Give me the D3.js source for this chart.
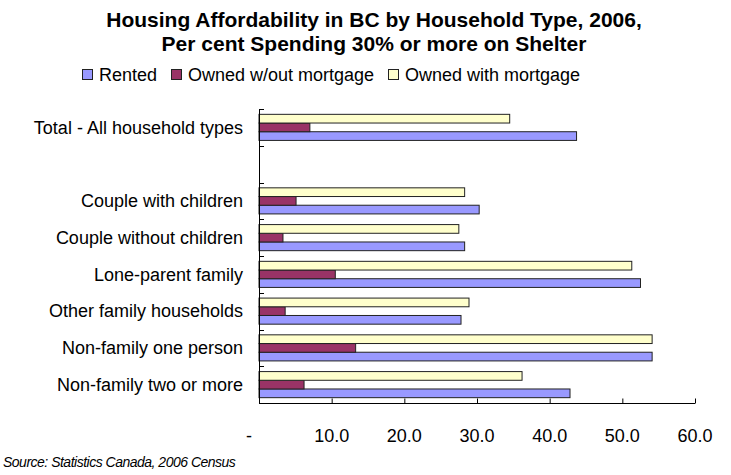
<!DOCTYPE html>
<html>
<head>
<meta charset="utf-8">
<script src="https://cdn.jsdelivr.net/npm/d3@7"></script>
<style>
  body { margin: 0; background: #fff; }
  svg { font-family: "Liberation Sans", Arial, sans-serif; }
</style>
</head>
<body>
<svg width="731" height="475"></svg>
<script>
// household types, top to bottom ("" is the empty spacer row)
const categories = [
  "Total - All household types",
  "",
  "Couple with children",
  "Couple without children",
  "Lone-parent family",
  "Other family households",
  "Non-family one person",
  "Non-family two or more",
];

// per cent spending 30% or more on shelter
const rented = [43.7, null, 30.3, 28.3, 52.5, 27.8, 54.1, 42.8];
const ownedNoMortgage = [7.0, null, 5.1, 3.3, 10.5, 3.6, 13.3, 6.2];
const ownedMortgage = [34.5, null, 28.3, 27.5, 51.3, 28.9, 54.1, 36.2];

const seriesNames = ["Rented", "Owned w/out mortgage", "Owned with mortgage"];
const seriesColors = ["#9999ff", "#993366", "#ffffcc"];
const xTicks = [0, 10, 20, 30, 40, 50, 60];

const series = [
  { name: seriesNames[0], color: seriesColors[0], values: rented },
  { name: seriesNames[1], color: seriesColors[1], values: ownedNoMortgage },
  { name: seriesNames[2], color: seriesColors[2], values: ownedMortgage },
];

const svg = d3.select("svg");

const margin = { top: 109, right: 36, bottom: 72, left: 259 };
const width = +svg.attr("width");
const height = +svg.attr("height");

// scales work in page coordinates so every text can sit at the svg root
const xScale = d3.scaleLinear().domain([0, 60]).range([margin.left, width - margin.right]);

const yScale = d3.scaleBand()
  .domain(categories)
  .range([margin.top, height - margin.bottom])
  .paddingInner(0.29)
  .paddingOuter(0.145);

// within a group the last series sits on top (Excel order)
const ySub = d3.scaleBand()
  .domain(seriesNames.slice().reverse())
  .range([0, yScale.bandwidth()]);

// bars
series.forEach((s) => {
  svg.append("g")
    .selectAll("rect")
    .data(categories.map((c, i) => ({ cat: c, v: s.values[i] })).filter((d) => d.v != null))
    .join("rect")
    .attr("x", xScale(0))
    .attr("y", (d) => yScale(d.cat) + ySub(s.name))
    .attr("width", (d) => xScale(d.v) - xScale(0))
    .attr("height", ySub.bandwidth())
    .attr("fill", s.color)
    .attr("stroke", "#222")
    .attr("stroke-width", 1);
});

// y axis: line, boundary ticks pointing inward
const step = yScale.step();
const y0 = margin.top;
const y1 = height - margin.bottom;
const yAxisG = svg.append("g").attr("id", "y-axis");
yAxisG.append("line")
  .attr("x1", margin.left + 0.5).attr("x2", margin.left + 0.5)
  .attr("y1", y0).attr("y2", y1)
  .attr("stroke", "#000");
yAxisG.selectAll(".btick")
  .data(d3.range(categories.length + 1))
  .join("line")
  .attr("x1", margin.left + 0.5).attr("x2", margin.left + 5)
  .attr("y1", (i) => Math.round(y0 + i * step) + 0.5)
  .attr("y2", (i) => Math.round(y0 + i * step) + 0.5)
  .attr("stroke", "#000");

// category labels
svg.append("g")
  .selectAll("text")
  .data(categories.filter((c) => c !== ""))
  .join("text")
  .attr("x", margin.left - 16)
  .attr("y", (d) => yScale(d) + yScale.bandwidth() / 2)
  .attr("dy", "0.35em")
  .attr("text-anchor", "end")
  .attr("font-size", 18)
  .attr("fill", "#000")
  .text((d) => d);

// x axis: line and inward ticks from d3, labels drawn at the root
const xAxis = d3.axisBottom(xScale)
  .tickValues(xTicks)
  .tickSize(-5)
  .tickFormat("");

const xAxisG = svg.append("g")
  .attr("id", "x-axis")
  .attr("transform", `translate(0, ${y1 + 0.5})`)
  .call(xAxis);
xAxisG.select(".domain")
  .attr("d", `M${xScale(0)},0H${xScale(60)}`)
  .attr("stroke", "#000");

svg.append("g")
  .selectAll("text")
  .data(xTicks)
  .join("text")
  .attr("x", (d) => xScale(d) + (d === 0 ? -10 : 0))
  .attr("y", y1 + 39)
  .attr("text-anchor", "middle")
  .attr("font-size", 18)
  .attr("fill", "#000")
  .text((d) => (d === 0 ? "-" : d3.format(".1f")(d)));

// title
const title = svg.append("text")
  .attr("x", 374)
  .attr("y", 27)
  .attr("text-anchor", "middle")
  .attr("font-size", 21)
  .attr("font-weight", "bold");
title.append("tspan").attr("x", 374).text("Housing Affordability in BC by Household Type, 2006,");
title.append("tspan").attr("x", 374).attr("dy", 24).text("Per cent Spending 30% or more on Shelter");

// legend
const legendX = [82, 171, 388];
svg.append("g")
  .selectAll("rect")
  .data(series)
  .join("rect")
  .attr("x", (d, i) => legendX[i] + 0.5)
  .attr("y", 69.5)
  .attr("width", 10).attr("height", 10)
  .attr("fill", (d) => d.color)
  .attr("stroke", "#222");
svg.append("g")
  .selectAll("text")
  .data(series)
  .join("text")
  .attr("x", (d, i) => legendX[i] + 17)
  .attr("y", 75)
  .attr("dy", "0.35em")
  .attr("font-size", 18)
  .text((d) => d.name);

// source note
svg.append("text")
  .attr("x", 3)
  .attr("y", 467)
  .attr("font-size", 14)
  .attr("font-style", "italic")
  .attr("letter-spacing", -0.5)
  .text("Source: Statistics Canada, 2006 Census");
</script>
</body>
</html>
